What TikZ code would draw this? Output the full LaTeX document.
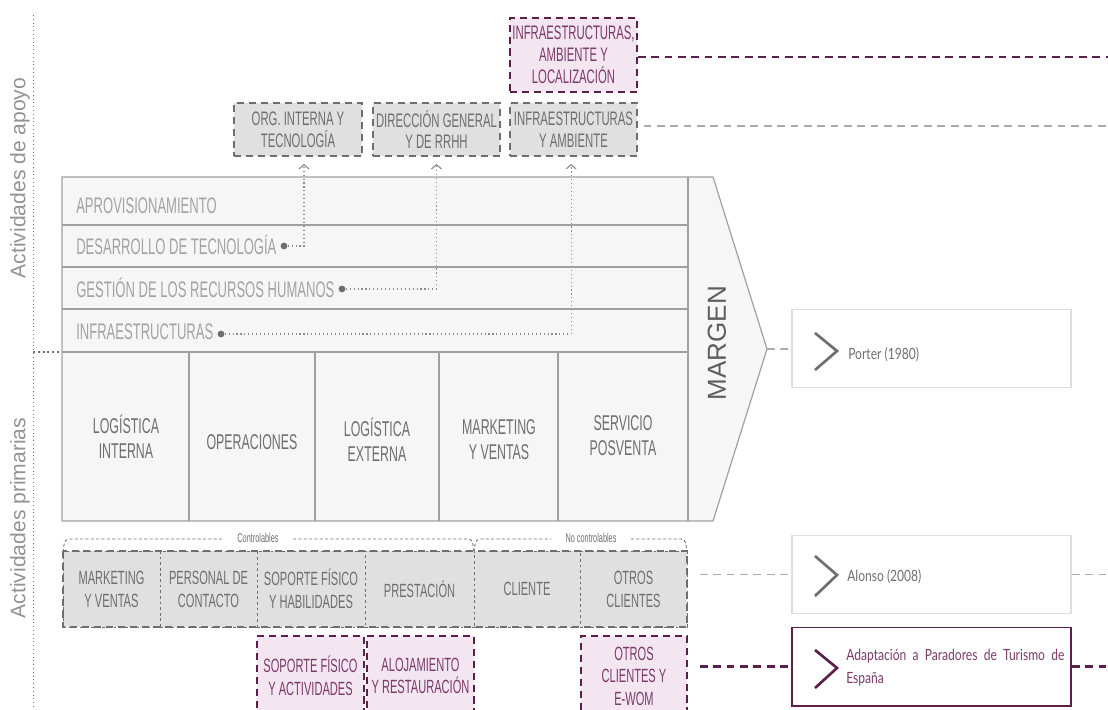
\documentclass[tikz,border=0pt]{standalone}
\usepackage{fontspec}
\setmainfont{Liberation Sans}
\newfontfamily\condfont[FakeStretch=0.58]{Liberation Sans}
\newfontfamily\latofont[FakeStretch=0.78]{Lato}
\usetikzlibrary{arrows.meta}
\definecolor{plum}{HTML}{5C1F4C}
\definecolor{plumtext}{HTML}{7A3A6A}
\definecolor{plumfill}{HTML}{F4E6F0}
\definecolor{boxgray}{HTML}{E0E0E0}
\definecolor{chainfill}{HTML}{F6F6F6}
\definecolor{chainline}{HTML}{A0A0A0}
\definecolor{txt}{HTML}{6E6E6E}
\definecolor{lighttxt}{HTML}{A3A3A3}
\definecolor{dashgray}{HTML}{ABABAB}
\begin{document}
\begin{tikzpicture}[x=0.025cm, y=-0.025cm,
  gray box/.style={draw=txt, fill=boxgray, dash pattern=on 5pt off 3.5pt, line width=1.3pt, text=txt, align=center, inner sep=0pt, font=\condfont\fontsize{13.9}{15.6}\selectfont},
  plum box/.style={gray box, draw=plum, fill=plumfill, text=plumtext},
  cell/.style={draw=txt, fill=boxgray, dash pattern=on 2pt off 2pt, line width=0.4pt, text=txt, align=center, inner sep=0pt, minimum height=1.9cm, font=\condfont\fontsize{13.6}{16.4}\selectfont},
  row border/.style={draw=txt, dash pattern=on 5pt off 3.5pt, line width=1.3pt},
  chain/.style={draw=chainline, line width=0.85pt},
  row label/.style={anchor=base west, inner sep=0pt, text=lighttxt, font=\condfont\fontsize{16}{18}\selectfont},
  prim/.style={align=center, text=txt, font=\condfont\fontsize{15.2}{17.8}\selectfont},
  margin label/.style={rotate=90, text=txt!85!black, font=\fontsize{18.5}{22}\selectfont},
  side label/.style={rotate=90, text=lighttxt!90!black, font=\fontsize{15}{18}\selectfont},
  small label/.style={text=txt, inner xsep=10pt, inner ysep=0pt, font=\condfont\fontsize{9}{10}\selectfont},
  dot/.style={circle, fill=txt, inner sep=0pt, minimum size=0.17cm},
  link/.style={draw=txt!80, dotted, line width=0.8pt, shorten >=5pt, -{Straight Barb[length=3pt, width=7pt]}},
  bracket/.style={draw=txt, dash pattern=on 2.2pt off 1.6pt, line width=0.6pt},
  axis line/.style={draw=txt, dotted, line width=0.7pt},
  gray line/.style={draw=dashgray, dash pattern=on 5.5pt off 4pt, line width=1.3pt},
  plum line/.style={draw=plum, dash pattern=on 5.5pt off 4pt, line width=1.5pt},
  ref box/.style={draw=black!13, line width=1.1pt, minimum width=6.975cm, minimum height=1.95cm},
  ref text/.style={anchor=west, inner sep=0pt, text=txt, font=\latofont\fontsize{11}{16.4}\selectfont},
  chev/.style={draw=txt, line width=1.9pt}]
\useasboundingbox (0,0) rectangle (1108,709);
\clip (0,0) rectangle (1108,709);
% side labels
\coordinate (t0) at (33,15);
\coordinate (t1) at (33,712);
\draw[axis line] (t0) -- (t1);
\draw[axis line, line width=1.4pt] (33,352) -- (62,352);
\node[side label] (l1) at (20,178) {Actividades de apoyo};
\node[side label] (l2) at (20,518) {Actividades primarias};
% value chain
\draw[chain, fill=chainfill] (62,177) -- (713,177) -- (767,349) -- (713,521) -- (62,521) -- cycle;
\coordinate (tip) at (767,349);
\draw[chain] (688,177) -- (688,521);
\draw[chain] (62,225) -- (688,225);
\draw[chain] (62,267) -- (688,267);
\draw[chain] (62,309) -- (688,309);
\draw[chain] (62,352) -- (688,352);
\draw[chain] (189,352) -- (189,521);
\draw[chain] (315,352) -- (315,521);
\draw[chain] (439,352) -- (439,521);
\draw[chain] (558,352) -- (558,521);
\node[row label] (s1) at (76,213) {APROVISIONAMIENTO};
\node[row label] (s2) at (76,254) {DESARROLLO DE TECNOLOGÍA};
\node[row label] (s3) at (76,297) {GESTIÓN DE LOS RECURSOS HUMANOS};
\node[row label] (s4) at (76,339) {INFRAESTRUCTURAS};
\node[dot] (d1) at (284,246) {};
\node[dot] (d2) at (342,289) {};
\node[dot] (d3) at (221,334) {};
\node[prim] (p1) at (126,437) {LOGÍSTICA\\INTERNA};
\node[prim] (p2) at (252,442) {OPERACIONES};
\node[prim] (p3) at (377,440) {LOGÍSTICA\\EXTERNA};
\node[prim] (p4) at (499,440) {MARKETING\\Y VENTAS};
\node[prim] (p5) at (623,436) {SERVICIO\\POSVENTA};
\node[margin label] (m) at (717,343) {MARGEN};
% support boxes
\node[gray box, minimum width=3.2cm, minimum height=1.325cm] (o1) at (298,129.5) {ORG. INTERNA Y\\TECNOLOGÍA};
\node[gray box, minimum width=3.175cm, minimum height=1.325cm] (o2) at (436.5,129.5) {DIRECCIÓN GENERAL\\Y DE RRHH};
\node[gray box, minimum width=3.175cm, minimum height=1.325cm] (o3) at (573.5,129.5) {INFRAESTRUCTURAS\\Y AMBIENTE};
\node[plum box, minimum width=3.175cm, minimum height=1.85cm] (o4) at (573.5,55) {INFRAESTRUCTURAS,\\AMBIENTE Y\\LOCALIZACIÓN};
\draw[link] (d1) -| ([xshift=0.15cm]o1.south);
\draw[link] (d2) -| (o2.south);
\draw[link] (d3) -| ([xshift=-0.06cm]o3.south);
\coordinate (e1) at (1110,57);
\coordinate (e2) at (1110,126);
\draw[plum line] (o4.east |- e1) -- (e1);
\draw[gray line, shorten <=4pt] (o3.east |- e2) -- (e2);
% references
\node[ref box] (r1) at (931.5,348.5) {};
\draw[chev] (815,333) -- (837,351) -- (815,370);
\node[ref text] (r1t) at (848,355) {Porter (1980)};
\draw[gray line] (tip) -- (r1);
\node[ref box] (r2) at (931.5,574.5) {};
\draw[chev] (815,556) -- (837,575) -- (815,596);
\node[ref text] (r2t) at (847,577) {Alonso (2008)};
\coordinate (g1) at (700,574.5);
\coordinate (g2) at (1110,574.5);
\draw[gray line] (g1) -- (r2);
\draw[gray line] (r2) -- (g2);
\node[ref box, draw=plum, line width=1.4pt] (r3) at (931.5,666.5) {};
\draw[chev, draw=plum] (815,650) -- (837,668) -- (815,688);
\node[ref text, text=plumtext, align=left] (r3t) at (846,668) {\makebox[5.45cm][s]{Adaptación a Paradores de Turismo de}\\España};
\coordinate (h1) at (700,666.5);
\coordinate (h2) at (1110,666.5);
\draw[plum line] (h1) -- (r3);
\draw[plum line] (r3) -- (h2);
% service row
\node[small label] (k1) at (258,538) {Controlables};
\node[small label] (k2) at (591,538) {No controlables};
\draw[bracket] (63,552) to[out=80, in=180] (69,539) -- (k1.west |- 69,539);
\draw[bracket] (k1.east |- 468,539) -- (468,539) to[out=0, in=100] (474,552);
\draw[bracket] (474,552) to[out=80, in=180] (480,539) -- (k2.west |- 480,539);
\draw[bracket] (k2.east |- 681,539) -- (681,539) to[out=0, in=100] (687,552);
\node[cell, minimum width=2.425cm] (c1) at (111.5,589) {MARKETING\\Y VENTAS};
\node[cell, minimum width=2.425cm] (c2) at (208.5,589) {PERSONAL DE\\CONTACTO};
\node[cell, minimum width=2.7cm] (c3) at (311,589) {SOPORTE FÍSICO\\Y HABILIDADES};
\node[cell, minimum width=2.725cm] (c4) at (419.5,589) {PRESTACIÓN};
\node[cell, minimum width=2.65cm] (c5) at (527,589) {CLIENTE};
\node[cell, minimum width=2.675cm] (c6) at (633.5,589) {OTROS\\CLIENTES};
\draw[row border] (c1.north west) rectangle (c6.south east);
\node[plum box, minimum width=2.675cm, minimum height=2cm, font=\condfont\fontsize{13.6}{16}\selectfont] (b1) at (310.5,676) {SOPORTE FÍSICO\\Y ACTIVIDADES};
\node[plum box, minimum width=2.675cm, minimum height=2cm, font=\condfont\fontsize{13.6}{16}\selectfont] (b2) at (420.5,676) {ALOJAMIENTO\\Y RESTAURACIÓN};
\node[plum box, minimum width=2.65cm, minimum height=2cm, font=\condfont\fontsize{13.6}{16}\selectfont] (b3) at (634,676) {OTROS\\CLIENTES Y\\E-WOM};
\end{tikzpicture}
\end{document}
